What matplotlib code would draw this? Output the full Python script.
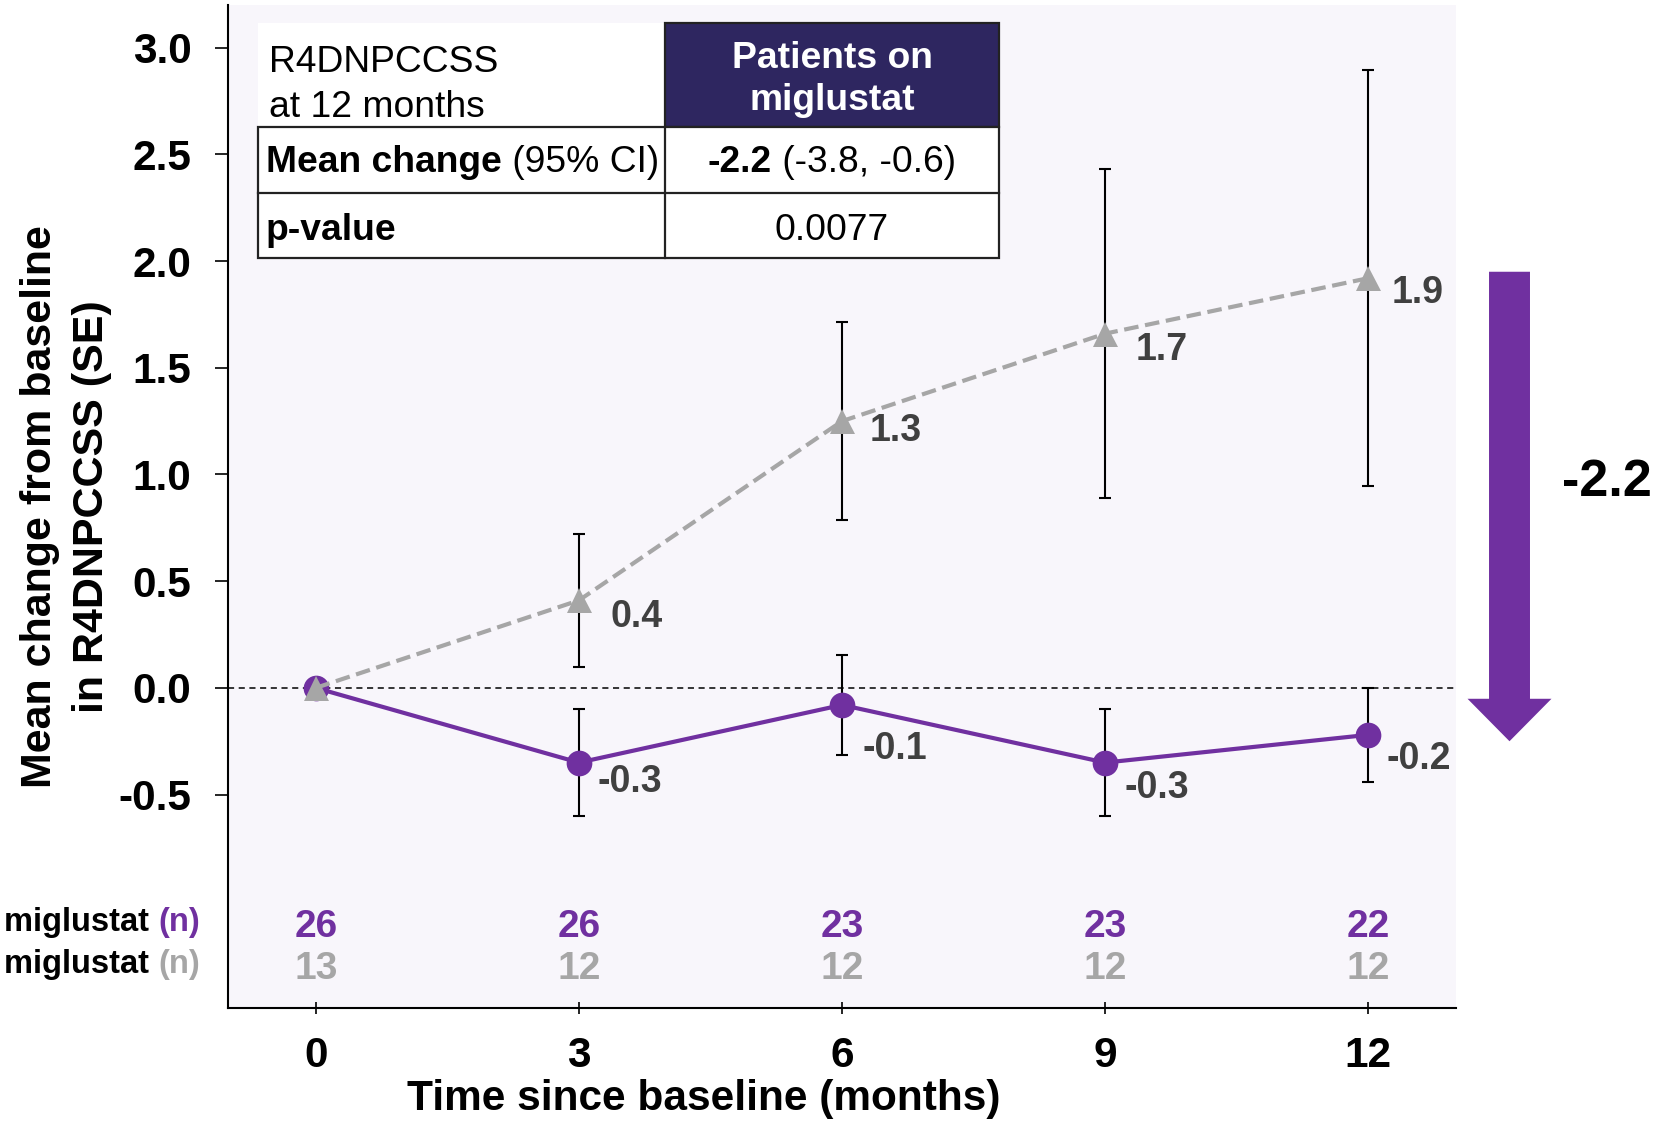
import matplotlib
matplotlib.use("Agg")
import matplotlib.pyplot as plt
from matplotlib.patches import Rectangle, FancyArrow
from matplotlib.offsetbox import TextArea, HPacker, AnnotationBbox

plt.rcParams['font.family'] = ['Liberation Sans', 'DejaVu Sans']

# ---------------- data ----------------
months = [0, 3, 6, 9, 12]
on_mean = [0.0, -0.35, -0.08, -0.35, -0.22]
on_se = [0.0, 0.25, 0.235, 0.25, 0.22]
on_labels = ["", "-0.3", "-0.1", "-0.3", "-0.2"]
off_mean = [0.0, 0.41, 1.25, 1.66, 1.92]
off_se = [0.0, 0.31, 0.465, 0.77, 0.975]
off_labels = ["", "0.4", "1.3", "1.7", "1.9"]
n_on = [26, 26, 23, 23, 22]
n_off = [13, 12, 12, 12, 12]
yticks = [-0.5, 0.0, 0.5, 1.0, 1.5, 2.0, 2.5, 3.0]
xticks = [0, 3, 6, 9, 12]
diff_text = "-2.2"
table_title = ["R4DNPCCSS", "at 12 months"]
table_header = ["Patients on", "miglustat"]
row1_label = ["Mean change", " (95% CI)"]
row1_value = ["-2.2", " (-3.8, -0.6)"]
row2_label = "p-value"
row2_value = "0.0077"
n_row_names = ["miglustat ", "miglustat "]
ylabel = "Mean change from baseline\nin R4DNPCCSS (SE)"
xlabel = "Time since baseline (months)"

# ---------------- style ----------------
PURPLE = '#7030A0'
GRAY = '#A6A6A6'
LABEL = '#404040'
BG = '#F8F6FB'
NAVY = '#2E2660'
W, H = 1660, 1121

fig = plt.figure(figsize=(W / 100, H / 100), dpi=100)
ax = fig.add_axes([228 / W, 1 - 1008 / H, (1456 - 228) / W, (1008 - 5) / H])
ax.set_facecolor(BG)
ax.set_xlim(-1, 13)
ax.set_ylim(-1.5, 3.2)
for s in ['top', 'right']:
    ax.spines[s].set_visible(False)
for s in ['left', 'bottom']:
    ax.spines[s].set_linewidth(1.5)
    ax.spines[s].set_color('black')

ax.set_yticks(yticks)
ax.set_yticklabels([f"{v:.1f}" for v in yticks])
ax.set_xticks(xticks)
ax.set_xticklabels([str(v) for v in xticks])
ax.tick_params(axis='y', direction='out', length=9.4, width=1.2, pad=17,
               labelsize=30.5)
ax.tick_params(axis='x', direction='inout', length=8.6, width=1.2, pad=16,
               labelsize=30.5)
for lab in ax.get_xticklabels() + ax.get_yticklabels():
    lab.set_fontweight('bold')

ax.set_ylabel(ylabel, fontsize=31, fontweight='bold', linespacing=1.38, va='center')
ax.yaxis.set_label_coords(-0.1319, 0.5)
ax.set_xlabel(xlabel, fontsize=30.5, fontweight='bold', va='center')
ax.xaxis.set_label_coords(0.3876, -0.0905)

# zero reference line
ax.axhline(0, color='black', lw=1.1, ls=(0, (4, 3)), zorder=1)

# error bars
ax.errorbar(months[1:], on_mean[1:], yerr=on_se[1:], fmt='none', ecolor='black',
            elinewidth=1.5, capsize=4.5, capthick=1.5, zorder=2)
ax.errorbar(months[1:], off_mean[1:], yerr=off_se[1:], fmt='none', ecolor='black',
            elinewidth=1.5, capsize=4.5, capthick=1.5, zorder=2)

# series
ax.plot(months, on_mean, color=PURPLE, lw=3, marker='o', ms=18.5,
        markeredgewidth=0, zorder=3)
ax.plot(months, off_mean, color=GRAY, lw=3, ls=(0, (3.5, 1.6)), marker='^',
        ms=18, markeredgewidth=0, zorder=4)

# value labels
off_off = [(0, 0), (32, -17), (28, -10), (30, -16), (23, -15)]
on_off = [(0, 0), (19, -19), (20, -44), (19, -25), (18, -24)]
for x, y, t, o in zip(months, off_mean, off_labels, off_off):
    if t:
        ax.annotate(t, (x, y), xytext=o, textcoords='offset pixels', ha='left',
                    va='center', fontsize=27, fontweight='bold', color=LABEL)
for x, y, t, o in zip(months, on_mean, on_labels, on_off):
    if t:
        ax.annotate(t, (x, y), xytext=o, textcoords='offset pixels', ha='left',
                    va='center', fontsize=27, fontweight='bold', color=LABEL)

# numbers at risk
for x, n in zip(months, n_on):
    ax.text(x, -1.12, str(n), ha='center', va='center', fontsize=28,
            fontweight='bold', color=PURPLE)
for x, n in zip(months, n_off):
    ax.text(x, -1.318, str(n), ha='center', va='center', fontsize=28,
            fontweight='bold', color=GRAY)

# difference arrow (from off-treatment to on-treatment value at 12 months)
pad = 0.03
arr = FancyArrow(13.61, off_mean[-1] + pad, 0, on_mean[-1] - off_mean[-1] - 2 * pad,
                 width=0.467, head_width=0.957, head_length=0.199,
                 length_includes_head=True, color=PURPLE, lw=0, clip_on=False,
                 zorder=5)
ax.add_patch(arr)

# ---------------- overlay in pixel coordinates ----------------
tax = fig.add_axes([0, 0, 1, 1])
tax.set_xlim(0, W)
tax.set_ylim(H, 0)
tax.axis('off')
tax.patch.set_alpha(0)

tax.text(1607, 482, diff_text, ha='center', va='center', fontsize=37.5,
         fontweight='bold', color='black')

# table
x0, x1, x2 = 258, 665, 999
y0, y1, y2, y3 = 23, 127, 193, 258
tax.add_patch(Rectangle((x0, y0), x1 - x0, y1 - y0, facecolor='white', lw=0))
tax.add_patch(Rectangle((x1, y0), x2 - x1, y1 - y0, facecolor=NAVY,
                        edgecolor='#222222', lw=1.6))
tax.add_patch(Rectangle((x0, y1), x2 - x0, y3 - y1, facecolor='white',
                        edgecolor='#222222', lw=1.6))
tax.plot([x0, x2], [y2, y2], color='#222222', lw=1.6)
tax.plot([x1, x1], [y1, y3], color='#222222', lw=1.6)

TS = 26.8
tax.text(269, 72.5, table_title[0], fontsize=TS, va='baseline', ha='left')
tax.text(269, 117, table_title[1], fontsize=TS, va='baseline', ha='left')
tax.text(832, 67.5, table_header[0], fontsize=TS, fontweight='bold', color='white',
         va='baseline', ha='center')
tax.text(832, 110.5, table_header[1], fontsize=TS, fontweight='bold', color='white',
         va='baseline', ha='center')


def mixed(parts, weights, colors, xy, align, size):
    boxes = [TextArea(p, textprops=dict(fontsize=size, fontweight=w, color=c))
             for p, w, c in zip(parts, weights, colors)]
    pack = HPacker(children=boxes, pad=0, sep=0, align='baseline')
    ab = AnnotationBbox(pack, xy, xycoords='data', box_alignment=align,
                        frameon=False, pad=0)
    tax.add_artist(ab)


mixed(row1_label, ['bold', 'normal'], ['black', 'black'], (266, 162), (0, 0.5), TS)
mixed(row1_value, ['bold', 'normal'], ['black', 'black'], (832, 162), (0.5, 0.5), TS)
tax.text(266, 240, row2_label, fontsize=TS, fontweight='bold', va='baseline',
         ha='left')
tax.text(832, 240, row2_value, fontsize=TS, va='baseline', ha='center')

# row labels for numbers at risk
for name, col, yy in zip(n_row_names, [PURPLE, GRAY], [922, 964]):
    mixed([name, "(n)"], ['bold', 'bold'], ['black', col], (200, yy), (1, 0.5), 23.5)

fig.savefig('out.png', dpi=100)
